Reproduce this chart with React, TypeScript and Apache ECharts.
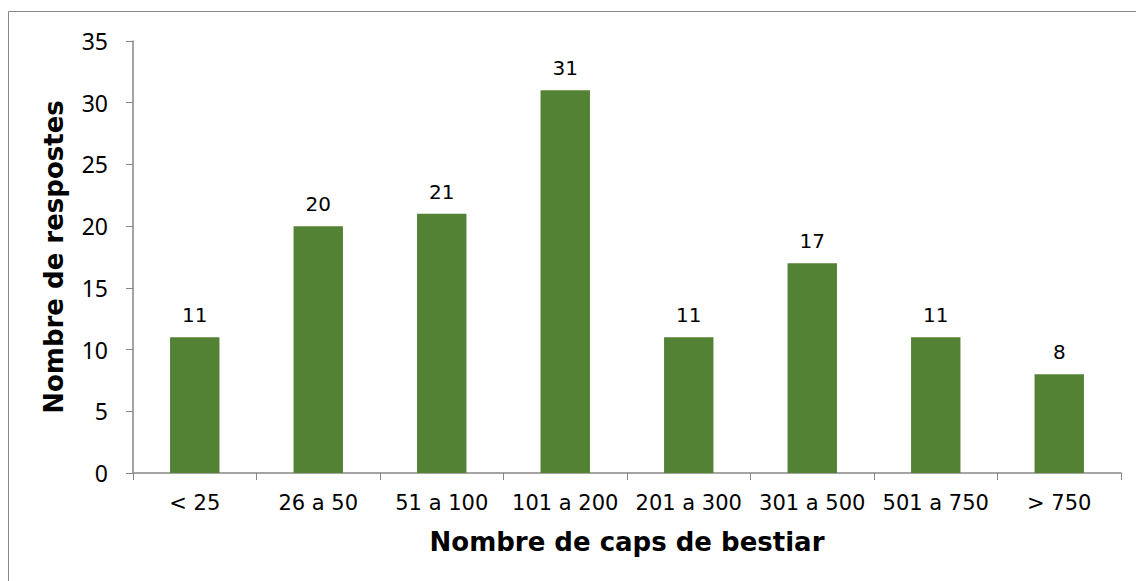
import React, { useEffect, useRef } from "react";
import * as echarts from "echarts";

const categories = ["< 25", "26 a 50", "51 a 100", "101 a 200", "201 a 300", "301 a 500", "501 a 750", "> 750"];
const values = [11, 20, 21, 31, 11, 17, 11, 8];
const yTitle = "Nombre de respostes";
const xTitle = "Nombre de caps de bestiar";

const FONT = "DejaVu Sans, Verdana, sans-serif";

export default function App() {
  const ref = useRef<HTMLDivElement>(null);
  useEffect(() => {
    if (!ref.current) return;
    const chart = echarts.init(ref.current, null, { renderer: "svg" });
    chart.setOption({
      animation: false,
      backgroundColor: "#fff",
      graphic: [
        {
          type: "rect",
          shape: { x: 8.5, y: 11.5, width: 1140, height: 600 },
          style: { fill: "none", stroke: "#888", lineWidth: 1 },
          silent: true,
        },
      ],
      grid: { left: 133, right: 15, top: 41, bottom: 108, containLabel: false },
      xAxis: {
        type: "category",
        data: categories,
        name: xTitle,
        nameLocation: "middle",
        nameGap: 56,
        nameTextStyle: { fontFamily: FONT, fontSize: 26, fontWeight: "bold", color: "#000" },
        axisLine: { lineStyle: { color: "#868686", width: 1.5 } },
        axisTick: { show: true, length: 7, alignWithLabel: false, lineStyle: { color: "#868686" } },
        axisLabel: { fontFamily: FONT, fontSize: 21, color: "#000", margin: 19, interval: 0 },
      },
      yAxis: {
        type: "value",
        min: 0,
        max: 35,
        interval: 5,
        name: yTitle,
        nameLocation: "middle",
        nameGap: 66,
        nameTextStyle: { fontFamily: FONT, fontSize: 26, fontWeight: "bold", color: "#000" },
        axisLine: { show: true, lineStyle: { color: "#868686", width: 1.5 } },
        axisTick: { show: true, length: 7, lineStyle: { color: "#868686" } },
        axisLabel: { fontFamily: "Noto Sans, Open Sans, sans-serif", fontSize: 23, color: "#000", margin: 25 },
        splitLine: { show: false },
      },
      series: [
        {
          type: "bar",
          data: values,
          barWidth: "40%",
          itemStyle: { color: "#548235" },
          label: {
            show: true,
            position: "top",
            distance: 12,
            fontFamily: FONT,
            fontSize: 20,
            color: "#000",
          },
        },
      ],
    });
    return () => chart.dispose();
  }, []);
  return (
    <div
      ref={ref}
      style={{ position: "absolute", left: 0, top: 0, width: 1136, height: 581 }}
    />
  );
}
